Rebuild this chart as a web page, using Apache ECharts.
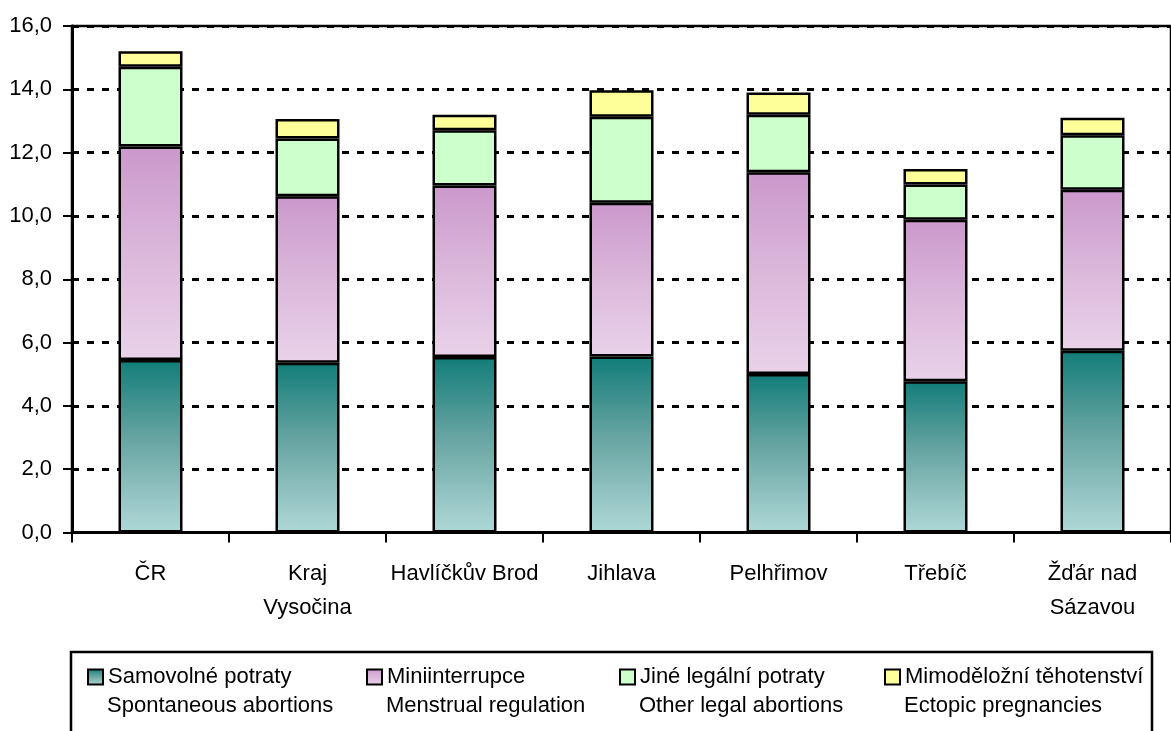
<!DOCTYPE html>
<html>
<head>
<meta charset="utf-8">
<script src="https://cdn.jsdelivr.net/npm/echarts@6/dist/echarts.min.js"></script>
<style>html,body{margin:0;padding:0;background:#fff;}#c{width:1171px;height:731px;}</style>
</head>
<body>
<div id="c"></div>
<script>
var categories = ['ČR', 'Kraj\nVysočina', 'Havlíčkův Brod', 'Jihlava', 'Pelhřimov', 'Třebíč', 'Žďár nad\nSázavou'];
var seriesNamesCz = ['Samovolné potraty', 'Miniinterrupce', 'Jiné legální potraty', 'Mimoděložní těhotenství'];
var seriesNamesEn = ['Spontaneous abortions', 'Menstrual regulation', 'Other legal abortions', 'Ectopic pregnancies'];
var spontaneous = [5.45, 5.36, 5.54, 5.56, 5.01, 4.78, 5.74];
var menstrual   = [6.74, 5.26, 5.42, 4.86, 6.37, 5.10, 5.09];
var otherLegal  = [2.52, 1.83, 1.75, 2.71, 1.82, 1.11, 1.72];
var ectopic     = [0.49, 0.61, 0.49, 0.84, 0.70, 0.49, 0.55];
var yTicks = [0, 2, 4, 6, 8, 10, 12, 14, 16];

var FONT = '"Liberation Sans", Arial, sans-serif';
var values = [spontaneous, menstrual, otherLegal, ectopic];
var fills = [
  new echarts.graphic.LinearGradient(0, 0, 0, 1, [
    {offset: 0, color: '#127d79'}, {offset: 0.45, color: '#66a4a1'}, {offset: 1, color: '#afd8d8'}]),
  new echarts.graphic.LinearGradient(0, 0, 0, 1, [
    {offset: 0, color: '#cb98cb'}, {offset: 0.5, color: '#dbb8db'}, {offset: 1, color: '#e9d2e9'}]),
  '#ccffcc',
  '#ffff99'
];
var legendIconX = [87, 366, 619, 884];

var chart = echarts.init(document.getElementById('c'), null, {renderer: 'canvas'});
var series = values.map(function (v, i) {
  return {
    name: seriesNamesCz[i],
    type: 'bar',
    stack: 'total',
    data: v,
    barWidth: 64,
    itemStyle: {color: fills[i], borderColor: '#000', borderWidth: 2.5},
    emphasis: {disabled: true}
  };
});
var legends = seriesNamesCz.map(function (n, i) {
  return {
    data: [n], left: legendIconX[i], top: 666, padding: 0,
    itemWidth: 15, itemHeight: 15, icon: 'rect',
    textStyle: {fontFamily: FONT, fontSize: 22, color: '#000'},
    selectedMode: false
  };
});
var graphics = [{
  type: 'rect', shape: {x: 71, y: 652, width: 1081, height: 120},
  style: {fill: 'none', stroke: '#000', lineWidth: 2.5}, silent: true
}];
seriesNamesEn.forEach(function (n, i) {
  graphics.push({
    type: 'text', left: legendIconX[i] + 20, top: 695,
    style: {text: n, font: '22px ' + FONT, fill: '#000'}, silent: true
  });
});

chart.setOption({
  animation: false,
  backgroundColor: '#fff',
  grid: {left: 72, top: 26, width: 1108, height: 506.5, show: true, borderColor: '#000', borderWidth: 2.5, backgroundColor: 'transparent'},
  legend: legends,
  graphic: graphics,
  xAxis: {
    type: 'category',
    data: categories,
    axisLine: {lineStyle: {color: '#000', width: 3}},
    axisTick: {show: true, length: 10, lineStyle: {color: '#000', width: 2}, alignWithLabel: false},
    axisLabel: {fontFamily: FONT, fontSize: 22, color: '#000', margin: 24, lineHeight: 34, interval: 0}
  },
  yAxis: {
    type: 'value',
    min: yTicks[0], max: yTicks[yTicks.length - 1], interval: 2,
    axisLine: {show: true, lineStyle: {color: '#000', width: 3}},
    axisTick: {show: true, length: 9, lineStyle: {color: '#000', width: 2}},
    axisLabel: {fontFamily: FONT, fontSize: 22, color: '#000', margin: 20,
      formatter: function (v) { return v.toFixed(1).replace('.', ','); }},
    splitLine: {show: true, lineStyle: {color: '#000', width: 3, type: [7, 8]}}
  },
  series: series
});
</script>
</body>
</html>
